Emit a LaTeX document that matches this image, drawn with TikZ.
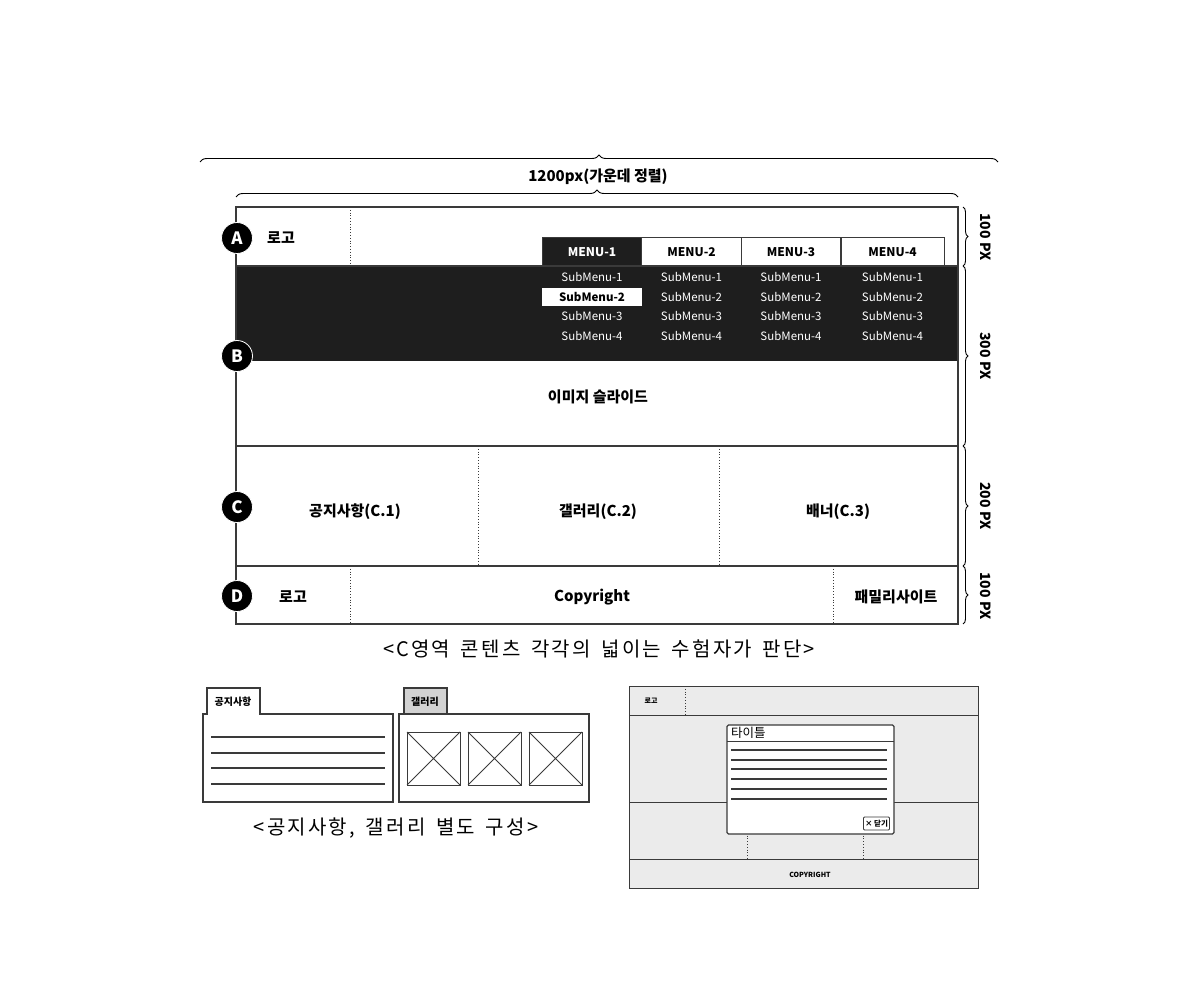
\documentclass[tikz,border=0pt]{standalone}
\usepackage{fontspec}
\setmainfont{Noto Sans CJK KR}
\newfontfamily\capfont{Noto Sans CJK KR}[LetterSpace=11,WordSpace=1.6]
\usetikzlibrary{decorations.pathreplacing}
\definecolor{ink}{HTML}{1E1E1E}
\definecolor{edge}{HTML}{3A3A3A}
\definecolor{panel}{HTML}{EBEBEB}
\definecolor{tabgrey}{HTML}{D2D2D2}
\tikzset{
  frame/.style={draw=edge, line width=1.1pt},
  divider/.style={draw=edge, line width=0.8pt, dotted},
  sizebrace/.style={draw=black, line width=0.9pt, decorate, decoration={brace, amplitude=#1}},
  badge/.style={circle, fill=black, draw=white, line width=0.8pt, minimum size=31pt, inner sep=0pt, text=white, font=\fontsize{17}{17}\selectfont\bfseries},
  menutab/.style={draw=edge, line width=1pt, minimum width=99.5pt, minimum height=28pt, inner sep=0pt, font=\fontsize{12}{12}\selectfont\bfseries},
  sub/.style={text=white, inner sep=0pt, font=\fontsize{11.5}{12}\selectfont},
  label/.style={inner sep=0pt, font=\fontsize{15}{15}\selectfont\bfseries},
  caption/.style={inner sep=0pt, font=\capfont\fontsize{20}{20}\selectfont},
  sidelabel/.style={inner sep=0pt, rotate=-90, font=\fontsize{14}{14}\selectfont\bfseries},
  textline/.style={draw=edge, line width=1.3pt},
}
\begin{document}
\begin{tikzpicture}[x=1pt, y=-1pt]
\useasboundingbox (0,0) rectangle (1200,1000);
\fill[white] (0,0) rectangle (1200,1000);

% ---- width braces
\coordinate (wL) at (200,162); \coordinate (wR) at (998,162);
\draw[sizebrace=7pt] (wL) -- (wR);
\node[label] (wtext) at (598,177) {1200px(가운데 정렬)};
\coordinate (iL) at (236,197); \coordinate (iR) at (958,197);
\draw[sizebrace=7pt] (iL) -- (iR);

% ---- band B (dark)
\fill[ink] (236,266) rectangle (958,361);

% ---- page frame and rows
\draw[frame] (236,207) rectangle (958,624);
\draw[frame] (236,266) -- (958,266);
\draw[frame] (236,446) -- (958,446);
\draw[frame] (236,566) -- (958,566);
\draw[divider] (350,207) -- (350,266);
\draw[divider] (478,446) -- (478,566);
\draw[divider] (719,446) -- (719,566);
\draw[divider] (350,566) -- (350,624);
\draw[divider] (833,566) -- (833,624);

% ---- row A
\node[label] (logoA) at (281,238) {로고};
\node[menutab, fill=ink, text=white] (m1) at (592,252) {MENU-1};
\node[menutab, fill=white] (m2) at (691.5,252) {MENU-2};
\node[menutab, fill=white] (m3) at (791,252) {MENU-3};
\node[menutab, fill=white, minimum width=103pt] (m4) at (892.5,252) {MENU-4};

% ---- submenus (the active entry is highlighted)
\foreach \c/\x in {1/592,2/691.5,3/791,4/892.5}{
  \foreach \r/\y in {1/277,2/297,3/316,4/336}{
    \ifnum\c\r=12\relax
      \node[fill=white, minimum width=100pt, minimum height=18pt, inner sep=0pt, font=\fontsize{11.5}{12}\selectfont\bfseries] (s\c\r) at (\x,\y) {SubMenu-\r};
    \else
      \node[sub] (s\c\r) at (\x,\y) {SubMenu-\r};
    \fi
  }
}

% ---- image slide
\node[label] (slide) at (598,397) {이미지 슬라이드};

% ---- row C
\node[label] (c1) at (355,512) {공지사항(C.1)};
\node[label] (c2) at (598,512) {갤러리(C.2)};
\node[label] (c3) at (838,512) {배너(C.3)};

% ---- row D
\node[label] (logoD) at (293,597) {로고};
\node[label] (copy) at (592,597) {Copyright};
\node[label] (family) at (896,597) {패밀리사이트};

% ---- section badges
\node[badge] (bA) at (237,238) {A};
\node[badge] (bB) at (237,356) {B};
\node[badge] (bC) at (237,507) {C};
\node[badge] (bD) at (237,596) {D};

% ---- height braces
\coordinate (h0) at (963,207); \coordinate (h1) at (963,266);
\coordinate (h2) at (963,446); \coordinate (h3) at (963,566);
\coordinate (h4) at (963,624);
\draw[sizebrace=5pt] (h0) -- (h1);
\draw[sizebrace=5pt] (h1) -- (h2);
\draw[sizebrace=5pt] (h2) -- (h3);
\draw[sizebrace=5pt] (h3) -- (h4);
\node[sidelabel] (t1) at (986,237) {100 PX};
\node[sidelabel] (t2) at (986,356) {300 PX};
\node[sidelabel] (t3) at (986,506) {200 PX};
\node[sidelabel] (t4) at (986,596) {100 PX};

\node[caption] (cap1) at (599,649) {<C영역 콘텐츠 각각의 넓이는 수험자가 판단>};

% ---- notice panel
\draw[frame, line width=1.2pt, fill=white] (203,802) -- (203,714) -- (207,714) -- (207,688) -- (260,688) -- (260,714) -- (393,714) -- (393,802) -- cycle;
\node[inner sep=0pt, font=\fontsize{10}{10}\selectfont\bfseries] (ntab) at (233,702) {공지사항};
\foreach \y in {737,753,768,784}{ \draw[textline] (211,\y) -- (385,\y); }

% ---- gallery panel
\draw[frame, line width=1.2pt, fill=tabgrey] (404,714) -- (404,688) -- (447,688) -- (447,714);
\draw[frame, line width=1.2pt, fill=white] (399,714) rectangle (589,802);
\node[inner sep=0pt, font=\fontsize{10}{10}\selectfont\bfseries] (gtab) at (425,702) {갤러리};
\foreach \x in {407,468,529}{
  \draw[frame, line width=1pt] (\x,732) rectangle ++(53,53);
  \draw[edge, line width=0.8pt] (\x,732) -- ++(53,53) (\x+53,732) -- ++(-53,53);
}
\node[caption] (cap2) at (396,828) {<공지사항, 갤러리 별도 구성>};

% ---- popup layout
\draw[frame, line width=1pt, fill=panel] (629,686) rectangle (978,888);
\draw[frame, line width=1pt] (629,715) -- (978,715);
\draw[frame, line width=1pt] (629,802) -- (978,802);
\draw[frame, line width=1pt] (629,859) -- (978,859);
\draw[divider, line width=0.5pt] (685,686) -- (685,715);
\draw[divider, line width=0.5pt] (747,802) -- (747,859);
\draw[divider, line width=0.5pt] (863,802) -- (863,859);
\node[inner sep=0pt, font=\fontsize{7}{7}\selectfont\bfseries] (plogo) at (651,701) {로고};
\node[inner sep=0pt, font=\fontsize{7}{7}\selectfont\bfseries] (pcopy) at (810,875) {COPYRIGHT};
\draw[frame, line width=1.1pt, fill=white, rounded corners=1.5pt] (727,725) rectangle (894,834);
\draw[frame, line width=1pt] (727,741) -- (894,741);
\node[inner sep=0pt, anchor=west, font=\fontsize{12.5}{12.5}\selectfont] (ptitle) at (731,733) {타이틀};
\foreach \y in {750,760,769,779,789,799}{ \draw[edge, line width=1.1pt] (731,\y) -- (887,\y); }
\node[draw=edge, line width=0.9pt, rounded corners=1pt, minimum width=26pt, minimum height=13pt, inner sep=0pt, font=\fontsize{7.5}{7.5}\selectfont\bfseries] (pclose) at (876.5,823.5) {× 닫기};
\end{tikzpicture}
\end{document}
